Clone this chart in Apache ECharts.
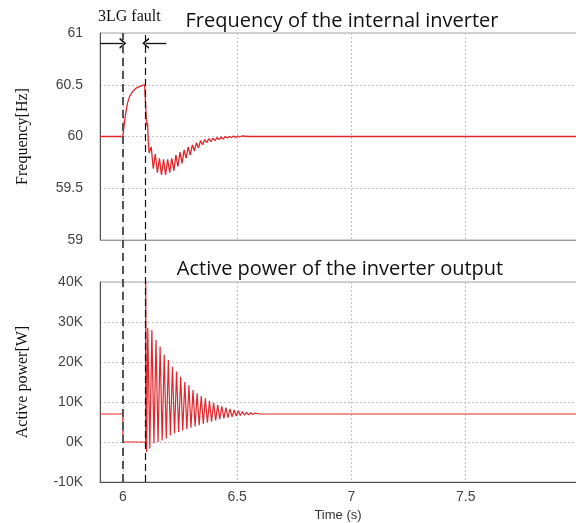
<!DOCTYPE html>
<html>
<head>
<meta charset="utf-8">
<script src="https://cdn.jsdelivr.net/npm/echarts@6/dist/echarts.min.js"></script>
<style>
  html, body { margin: 0; padding: 0; background: #fff; }
  #chart { width: 576px; height: 523px; }
</style>
</head>
<body>
<div id="chart"></div>
<script>
// Time axis (s)
const timeMin = 5.9;
const timeMax = 8;
const timeTicks = [6, 6.5, 7, 7.5, 8];

// Three-line-to-ground fault window (s)
const faultStart = 6.0;
const faultEnd = 6.1;

// Internal inverter frequency [Hz]: samples at turning points of the trace
const freqTime = [
  5.9, 6.0, 6.005, 6.01, 6.02, 6.03, 6.045, 6.06, 6.08, 6.095, 6.1,
  6.103, 6.106, 6.108, 6.111,
  6.115, 6.124, 6.133, 6.142, 6.151, 6.16, 6.169, 6.178, 6.187, 6.196,
  6.205, 6.214, 6.223, 6.232, 6.241, 6.25, 6.259, 6.268, 6.277, 6.286,
  6.295, 6.304, 6.313, 6.322, 6.331, 6.34, 6.349, 6.358, 6.367, 6.376,
  6.385, 6.394, 6.403, 6.412, 6.421, 6.43, 6.439, 6.448, 6.457, 6.466,
  6.475, 6.484, 6.493, 6.502, 6.511, 6.52, 6.55, 8.0
];
const freqHz = [
  60.0, 60.0, 60.1, 60.19, 60.32, 60.39, 60.44, 60.47, 60.49, 60.5, 60.5,
  60.16, 60.1, 60.13, 59.96,
  59.84, 59.9, 59.69, 59.83, 59.65, 59.79, 59.63, 59.78, 59.63, 59.78,
  59.65, 59.79, 59.67, 59.82, 59.71, 59.85, 59.74, 59.87, 59.79, 59.9,
  59.82, 59.92, 59.86, 59.94, 59.89, 59.96, 59.92, 59.97, 59.94, 59.98,
  59.95, 59.985, 59.96, 59.99, 59.97, 59.995, 59.975, 60.0, 59.985, 60.0,
  59.99, 60.005, 59.99, 60.005, 59.995, 60.005, 60.0, 60.0
];

// Active power at the inverter output [W]: samples at turning points of the trace
const powerTime = [
  5.9, 6.0, 6.0, 6.1, 6.1,
  6.104, 6.109, 6.118, 6.127, 6.136, 6.145, 6.154, 6.163, 6.172, 6.181,
  6.19, 6.199, 6.208, 6.217, 6.226, 6.235, 6.244, 6.253, 6.262, 6.271,
  6.28, 6.289, 6.298, 6.307, 6.316, 6.325, 6.334, 6.343, 6.352, 6.361,
  6.37, 6.379, 6.388, 6.397, 6.406, 6.415, 6.424, 6.433, 6.442, 6.451,
  6.46, 6.469, 6.478, 6.487, 6.496, 6.505, 6.514, 6.523, 6.532, 6.541,
  6.55, 6.559, 6.568, 6.577, 6.6, 8.0
];
const powerW = [
  7000, 7000, 0, 0, 40000,
  -2500, 28500, -1600, 28000, -300, 25500, 0, 23900, 400, 21800,
  900, 20500, 1700, 18800, 2200, 17600, 2500, 16300, 2900, 15000,
  3200, 14200, 3600, 13000, 3900, 12200, 4200, 11500, 4500, 10900,
  4800, 10300, 5100, 9800, 5400, 9300, 5700, 8900, 5900, 8600,
  6100, 8300, 6300, 8000, 6500, 7800, 6600, 7600, 6700, 7400,
  6800, 7300, 6850, 7200, 7000, 7000
];

// Axis ranges
const freqAxis = { min: 59, max: 61, step: 0.5 };
const powerAxis = { min: -10000, max: 40000, step: 10000 };

// Arrow level marking the fault window
const arrowLevel = 60.9;
const arrowTail = 6.19;

const zip = (xs, ys) => xs.map((x, i) => [x, ys[i]]);

const traceColor = '#e3262c';
const labelColor = '#444';
const gridColor = '#c4c4c4';

// Open chevron pointing up; markLine rotates it along the line
const chevron = 'path://M0,10 L10,0 L20,10 L17.2,10.8 L10,3.6 L2.8,10.8 Z';

const chart = echarts.init(document.getElementById('chart'), null, { renderer: 'canvas' });

const commonX = (show) => ({
  type: 'value',
  min: timeMin,
  max: timeMax,
  axisLine: { show: true, onZero: false, lineStyle: { color: show ? '#555' : '#9a9a9a', width: 1 } },
  axisTick: { show: false, customValues: timeTicks },
  axisLabel: {
    show: show,
    customValues: timeTicks,
    color: labelColor,
    fontFamily: 'Liberation Sans',
    fontSize: 14,
    margin: 8
  },
  splitLine: { show: true, lineStyle: { color: gridColor, type: [2, 2], width: 1 } }
});

const gridBase = { left: 100, right: -4, outerBoundsMode: 'none', containLabel: false };

const option = {
  animation: false,
  backgroundColor: '#fff',
  title: [
    {
      text: 'Frequency of the internal inverter',
      left: 342, top: 11, textAlign: 'center', padding: 0,
      textStyle: { fontFamily: 'Open Sans', fontWeight: 'normal', fontSize: 20, color: '#111' }
    },
    {
      text: 'Active power of the inverter output',
      left: 340, top: 259, textAlign: 'center', padding: 0,
      textStyle: { fontFamily: 'Open Sans', fontWeight: 'normal', fontSize: 20, color: '#111' }
    },
    {
      text: '3LG fault',
      left: 98, top: 9, padding: 0,
      textStyle: { fontFamily: 'Liberation Serif', fontWeight: 'normal', fontSize: 16, color: '#111' }
    }
  ],
  grid: [
    Object.assign({ top: 33, height: 207, show: true, borderColor: '#a8a8a8', borderWidth: 1 }, gridBase),
    Object.assign({ top: 282, height: 200, show: true, borderColor: '#a8a8a8', borderWidth: 1 }, gridBase),
    Object.assign({ top: 33, height: 449, show: false }, gridBase)
  ],
  xAxis: [
    Object.assign(commonX(false), { gridIndex: 0 }),
    Object.assign(commonX(true), {
      gridIndex: 1,
      name: 'Time (s)',
      nameLocation: 'middle',
      nameGap: 27,
      nameTextStyle: { fontFamily: 'Liberation Sans', fontSize: 13, color: '#333', padding: [0, 0, 0, -4] }
    }),
    { type: 'value', gridIndex: 2, min: timeMin, max: timeMax, show: false }
  ],
  yAxis: [
    {
      type: 'value', gridIndex: 0,
      min: freqAxis.min, max: freqAxis.max, interval: freqAxis.step,
      name: 'Frequency[Hz]', nameLocation: 'middle', nameGap: 69,
      nameTextStyle: { fontFamily: 'Liberation Serif', fontSize: 16, color: '#111' },
      axisLine: { show: true, lineStyle: { color: '#555' } },
      axisTick: { show: false },
      axisLabel: { color: labelColor, fontFamily: 'Liberation Sans', fontSize: 14, margin: 17 },
      splitLine: { show: true, lineStyle: { color: gridColor, type: [2, 2] } }
    },
    {
      type: 'value', gridIndex: 1,
      min: powerAxis.min, max: powerAxis.max, interval: powerAxis.step,
      name: 'Active power[W]', nameLocation: 'middle', nameGap: 69,
      nameTextStyle: { fontFamily: 'Liberation Serif', fontSize: 16, color: '#111' },
      axisLine: { show: true, lineStyle: { color: '#555' } },
      axisTick: { show: false },
      axisLabel: {
        color: labelColor, fontFamily: 'Liberation Sans', fontSize: 14, margin: 17,
        formatter: (v) => (v / 1000) + 'K'
      },
      splitLine: { show: true, lineStyle: { color: gridColor, type: [2, 2] } }
    },
    { type: 'value', gridIndex: 2, min: 0, max: 1, show: false }
  ],
  series: [
    {
      name: 'Frequency',
      type: 'line',
      xAxisIndex: 0, yAxisIndex: 0,
      data: zip(freqTime, freqHz),
      showSymbol: false,
      lineStyle: { color: traceColor, width: 1.3 },
      z: 3,
      markLine: {
        silent: true,
        symbol: ['none', chevron],
        symbolSize: [11, 7],
        label: { show: false },
        lineStyle: { color: '#111', width: 1.3, type: 'solid' },
        data: [
          [{ coord: [timeMin, arrowLevel] }, { coord: [faultStart, arrowLevel] }],
          [{ coord: [arrowTail, arrowLevel] }, { coord: [faultEnd, arrowLevel] }]
        ]
      }
    },
    {
      name: 'Active power',
      type: 'line',
      xAxisIndex: 1, yAxisIndex: 1,
      data: zip(powerTime, powerW),
      showSymbol: false,
      lineStyle: { color: traceColor, width: 1.2 },
      z: 3
    },
    {
      // carrier for the fault boundaries spanning both panels
      name: 'Fault window',
      type: 'line',
      xAxisIndex: 2, yAxisIndex: 2,
      data: [[faultStart, 0]],
      showSymbol: false,
      lineStyle: { opacity: 0 },
      z: 4,
      markLine: {
        silent: true,
        symbol: ['none', 'none'],
        label: { show: false },
        data: [
          { xAxis: faultStart, lineStyle: { color: '#555', width: 2, type: [8, 5] } },
          { xAxis: faultEnd, lineStyle: { color: '#111', width: 1.2, type: [7, 4] } }
        ]
      }
    }
  ]
};

chart.setOption(option);
</script>
</body>
</html>
